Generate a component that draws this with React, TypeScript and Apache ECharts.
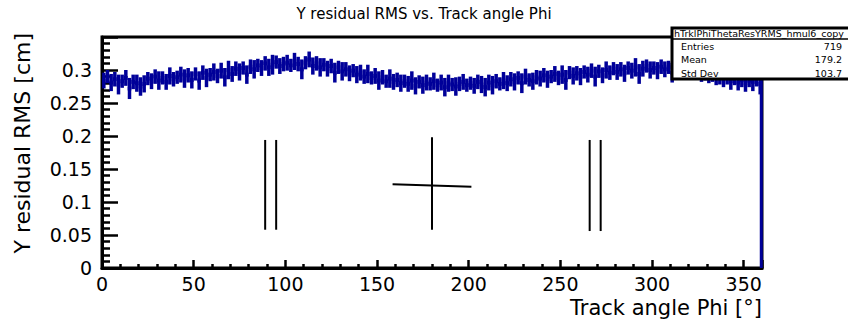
import React, { useEffect, useRef } from "react";
import * as echarts from "echarts";

// 2-degree bins (bin centres 1, 3, ..., 359)
const binWidth = 2;
const rmsValues: number[] = [
  0.284, 0.290, 0.281, 0.286, 0.278, 0.283, 0.288, 0.272, 0.282, 0.280,
  0.275, 0.279, 0.287, 0.283, 0.290, 0.284, 0.288, 0.282, 0.291, 0.286,
  0.289, 0.293, 0.287, 0.292, 0.285, 0.294, 0.284, 0.296, 0.288, 0.293,
  0.297, 0.291, 0.299, 0.289, 0.300, 0.294, 0.302, 0.297, 0.303, 0.293,
  0.305, 0.301, 0.307, 0.303, 0.310, 0.304, 0.308, 0.312, 0.306, 0.309,
  0.311, 0.307, 0.313, 0.309, 0.301, 0.311, 0.316, 0.306, 0.310, 0.304,
  0.308, 0.302, 0.306, 0.296, 0.304, 0.298, 0.301, 0.295, 0.299, 0.293,
  0.296, 0.290, 0.294, 0.288, 0.291, 0.284, 0.289, 0.283, 0.287, 0.282,
  0.285, 0.280, 0.283, 0.279, 0.284, 0.276, 0.282, 0.277, 0.281, 0.279,
  0.283, 0.277, 0.281, 0.274, 0.280, 0.278, 0.275, 0.279, 0.282, 0.277,
  0.280, 0.276, 0.282, 0.278, 0.274, 0.281, 0.277, 0.283, 0.279, 0.284,
  0.280, 0.286, 0.282, 0.288, 0.280, 0.290, 0.285, 0.283, 0.289, 0.287,
  0.292, 0.286, 0.290, 0.294, 0.288, 0.293, 0.285, 0.296, 0.291, 0.295,
  0.290, 0.297, 0.293, 0.299, 0.290, 0.298, 0.292, 0.300, 0.296, 0.302,
  0.297, 0.301, 0.295, 0.303, 0.299, 0.304, 0.294, 0.302, 0.306, 0.300,
  0.303, 0.299, 0.305, 0.301, 0.304, 0.296, 0.302, 0.300, 0.303, 0.297,
  0.300, 0.296, 0.299, 0.293, 0.297, 0.290, 0.294, 0.288, 0.292, 0.286,
  0.289, 0.283, 0.287, 0.281, 0.285, 0.280, 0.284, 0.282, 0.286, 0.279,
];
const rmsErrors: number[] = [
  0.012, 0.010, 0.013, 0.011, 0.015, 0.010, 0.012, 0.016, 0.011, 0.013,
  0.014, 0.013, 0.010, 0.012, 0.011, 0.014, 0.010, 0.012, 0.013, 0.011,
  0.010, 0.012, 0.014, 0.011, 0.013, 0.010, 0.014, 0.011, 0.014, 0.010,
  0.013, 0.011, 0.012, 0.014, 0.014, 0.012, 0.011, 0.013, 0.010, 0.014,
  0.011, 0.014, 0.010, 0.012, 0.011, 0.013, 0.015, 0.010, 0.012, 0.011,
  0.012, 0.010, 0.013, 0.011, 0.015, 0.010, 0.012, 0.013, 0.011, 0.014,
  0.010, 0.012, 0.011, 0.015, 0.010, 0.014, 0.011, 0.012, 0.010, 0.013,
  0.012, 0.011, 0.014, 0.010, 0.012, 0.014, 0.011, 0.010, 0.014, 0.012,
  0.011, 0.013, 0.010, 0.012, 0.014, 0.013, 0.010, 0.013, 0.012, 0.010,
  0.013, 0.010, 0.012, 0.014, 0.013, 0.010, 0.014, 0.011, 0.012, 0.010,
  0.010, 0.012, 0.011, 0.013, 0.014, 0.012, 0.014, 0.011, 0.010, 0.013,
  0.012, 0.011, 0.013, 0.010, 0.015, 0.012, 0.010, 0.013, 0.011, 0.012,
  0.011, 0.013, 0.010, 0.012, 0.011, 0.014, 0.015, 0.010, 0.013, 0.011,
  0.013, 0.010, 0.012, 0.011, 0.015, 0.010, 0.012, 0.013, 0.011, 0.010,
  0.012, 0.011, 0.013, 0.010, 0.012, 0.014, 0.015, 0.012, 0.010, 0.013,
  0.010, 0.013, 0.011, 0.012, 0.010, 0.015, 0.011, 0.013, 0.012, 0.010,
  0.012, 0.010, 0.014, 0.011, 0.013, 0.010, 0.012, 0.011, 0.014, 0.012,
  0.011, 0.013, 0.010, 0.012, 0.011, 0.013, 0.010, 0.014, 0.011, 0.016,
];
// the last-edge bin whose error bar reaches down to zero
const edgeBinPhi = 359.6;
const edgeBinLow = 0;
const edgeBinHigh = 0.29;

// black reference lines drawn on the pad (data coordinates)
const refSegments: [number, number, number, number][] = [
  [89, 0.058, 89, 0.194],
  [95, 0.058, 95, 0.194],
  [180, 0.058, 180, 0.198],
  [158.5, 0.127, 201.5, 0.123],
  [266, 0.056, 266, 0.194],
  [272, 0.056, 272, 0.194],
];

const xMin = 0, xMax = 360, xInterval = 50;
const yMin = 0, yMax = 0.35, yInterval = 0.05;

const titleText = "Y residual RMS vs. Track angle Phi";
const xTitle = "Track angle Phi [°]";
const yTitle = "Y residual RMS [cm]";
const statsName = "hTrklPhiThetaResYRMS_hmul6_copy";
const statsLabels = ["Entries", "Mean", "Std Dev"];
const statsValues = ["719", "179.2", "103.7"];

const FONT = "DejaVu Sans";
const BLUE = "#000099";

export default function App() {
  const ref = useRef<HTMLDivElement>(null);
  useEffect(() => {
    if (!ref.current) return;
    const chart = echarts.init(ref.current, null, { renderer: "svg" });
    const histData = rmsValues.map((v, i) => [i * binWidth + binWidth / 2, v, rmsErrors[i]]);

    const statsGraphics: any[] = [
      {
        type: "rect", z: 100,
        shape: { x: 672, y: 28, width: 190, height: 51 },
        style: { fill: "#fff", stroke: "#000", lineWidth: 3 },
      },
      {
        type: "line", z: 101,
        shape: { x1: 672, y1: 39, x2: 848, y2: 39 },
        style: { stroke: "#000", lineWidth: 1.5 },
      },
      {
        type: "text", z: 101, x: 674, y: 33,
        style: { text: statsName, font: `9.5px '${FONT}'`, fill: "#000", verticalAlign: "middle" },
      },
    ];
    statsLabels.forEach((lab, i) => {
      statsGraphics.push({
        type: "text", z: 101, x: 681, y: 46 + i * 13.5,
        style: { text: lab, font: `9.5px '${FONT}'`, fill: "#000", verticalAlign: "middle" },
      });
      statsGraphics.push({
        type: "text", z: 101, x: 842, y: 46 + i * 13.5,
        style: { text: statsValues[i], font: `9.5px '${FONT}'`, fill: "#000", verticalAlign: "middle", align: "right" },
      });
    });

    const option: any = {
      animation: false,
      backgroundColor: "#fff",
      grid: {
        left: 102, right: 86, top: 37, bottom: 52,
        show: true, borderColor: "#000", borderWidth: 3, backgroundColor: "transparent",
      },
      xAxis: {
        type: "value", min: xMin, max: xMax, interval: xInterval,
        axisLine: { show: true, onZero: false, lineStyle: { color: "#000", width: 3 } },
        axisTick: { show: true, inside: true, length: 8, lineStyle: { color: "#000", width: 2.5 } },
        minorTick: { show: true, splitNumber: 5, length: 4, lineStyle: { color: "#000", width: 2.5 } },
        splitLine: { show: false },
        axisLabel: { showMaxLabel: false, color: "#000", fontFamily: FONT, fontSize: 19, margin: 6 },
      },
      yAxis: {
        type: "value", min: yMin, max: yMax, interval: yInterval,
        axisLine: { show: true, onZero: false, lineStyle: { color: "#000", width: 3 } },
        axisTick: { show: true, inside: true, length: 16, lineStyle: { color: "#000", width: 2.5 } },
        minorTick: { show: true, splitNumber: 5, length: 8, lineStyle: { color: "#000", width: 2.5 } },
        splitLine: { show: false },
        axisLabel: { showMaxLabel: false, color: "#000", fontFamily: FONT, fontSize: 19, margin: 10 },
      },
      series: [
        {
          type: "custom",
          data: histData,
          clip: true,
          renderItem: (params: any, api: any) => {
            const c = api.value(0), v = api.value(1), e = api.value(2);
            const pL = api.coord([c - binWidth / 2, v]);
            const pR = api.coord([c + binWidth / 2, v]);
            const pT = api.coord([c, v + e]);
            const pB = api.coord([c, v - e]);
            return {
              type: "group",
              children: [
                { type: "line", shape: { x1: pL[0], y1: pL[1], x2: pR[0], y2: pR[1] }, style: { stroke: BLUE, lineWidth: 4 } },
                { type: "line", shape: { x1: pT[0], y1: pT[1], x2: pB[0], y2: pB[1] }, style: { stroke: BLUE, lineWidth: 3.5 } },
              ],
            };
          },
        },
        {
          type: "line",
          data: [[edgeBinPhi, edgeBinLow], [edgeBinPhi, edgeBinHigh]],
          symbol: "none",
          lineStyle: { color: BLUE, width: 3 },
        },
        ...refSegments.map((s) => ({
          type: "line",
          data: [[s[0], s[1]], [s[2], s[3]]],
          symbol: "none",
          lineStyle: { color: "#000", width: 2 },
          z: 5,
        })),
      ],
      graphic: [
        {
          type: "text", x: 424, y: 14,
          style: { text: titleText, font: `15px '${FONT}'`, fill: "#000", align: "center", verticalAlign: "middle" },
        },
        {
          type: "text", x: 762, y: 308,
          style: { text: xTitle, font: `21px '${FONT}'`, fill: "#000", align: "right", verticalAlign: "middle" },
        },
        {
          type: "text", x: 22, y: 33, rotation: Math.PI / 2,
          style: { text: yTitle, font: `22px '${FONT}'`, fill: "#000", align: "right", verticalAlign: "middle" },
        },
        ...statsGraphics,
      ],
    };
    chart.setOption(option);
    return () => chart.dispose();
  }, []);
  return (
    <div
      ref={ref}
      style={{ position: "fixed", left: 0, top: 0, width: 848, height: 320, background: "#fff" }}
    />
  );
}
